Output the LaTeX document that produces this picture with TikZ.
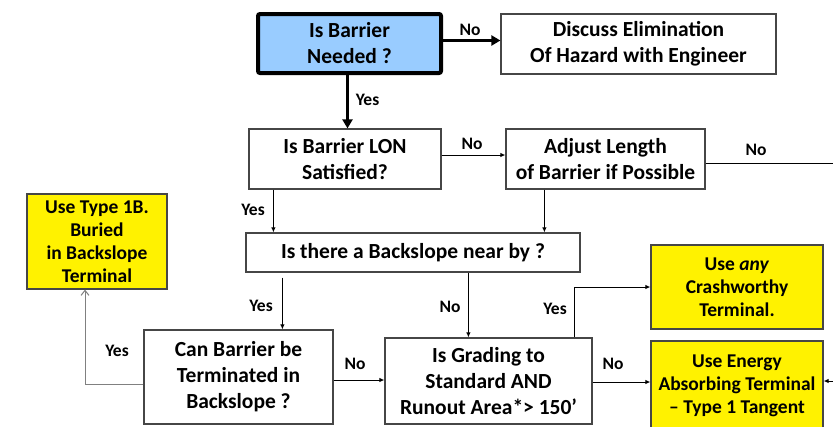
\documentclass[tikz,border=0pt]{standalone}
\usepackage{fontspec}
\setmainfont{Carlito}
\usetikzlibrary{arrows.meta}

\definecolor{azul}{RGB}{153,204,255}
\definecolor{borde}{RGB}{70,70,70}

\tikzset{
  caja/.style={draw=borde, line width=1.2pt, fill=white, align=center, inner sep=0pt,
    font=\bfseries\fontsize{21.5}{26}\selectfont},
  final/.style={caja, fill=yellow, font=\bfseries\fontsize{19.5}{23}\selectfont},
  etiq/.style={anchor=base, inner sep=0pt, font=\bfseries\fontsize{17.5}{20}\selectfont},
  flecha/.style={-{Latex[length=5pt,width=4.5pt]}, line width=1pt},
  gruesa/.style={-{Triangle[length=9pt,width=10pt]}, line width=3.5pt},
}

\begin{document}
\begin{tikzpicture}[x=1pt,y=-1pt]
            \useasboundingbox (0,0) rectangle (833,426);

            % Cajas
            \node[caja, draw=black, line width=4pt, rounded corners=2pt, fill=azul,
              minimum width=183pt, minimum height=59pt] (need) at (349.5,43.5) {Is Barrier\\Needed ?};
            \node[caja, minimum width=275pt, minimum height=60pt] (disc) at (638.5,44)
              {Discuss Elimination\\Of Hazard with Engineer};
            \node[caja, minimum width=192pt, minimum height=60pt] (lon) at (345,159)
              {Is Barrier LON\\Satisfied?};
            \node[caja, minimum width=199pt, minimum height=60pt] (adj) at (605.5,159)
              {Adjust Length\\of Barrier if Possible};
            \node[final, minimum width=140pt, minimum height=95pt] (tipo) at (97,241.5)
              {Use Type 1B.\\Buried\\in Backslope\\Terminal};
            \node[caja, minimum width=334pt, minimum height=39pt] (back) at (413,252.5)
              {Is there a Backslope near by ?};
            \node[caja, minimum width=189pt, minimum height=94pt] (can) at (238.5,377)
              {Can Barrier be\\Terminated in\\Backslope ?};
            \node[caja, minimum width=207pt, minimum height=86pt] (grade) at (488.5,381)
              {Is Grading to\\Standard AND\\Runout Area*> 150’};
            \node[final, minimum width=172pt, minimum height=84pt] (crash) at (737,287)
              {Use \textit{any}\\Crashworthy\\Terminal.};
            \node[final, minimum width=172pt, minimum height=89pt] (energy) at (737,385.5)
              {Use Energy\\Absorbing Terminal\\– Type 1 Tangent};
            \coordinate (fuera1) at (834,163);
            \coordinate (fuera2) at (834,381);

            % Conectores
            \draw[gruesa] ([yshift=3pt]need.east) -- ([yshift=3pt]need.east -| disc.west);
            \draw[gruesa] ([xshift=-2pt]need.south) -- ([xshift=-2pt]need.south |- lon.north);
            \draw[flecha] ([yshift=4pt]lon.east) -- ([yshift=4pt]lon.east -| adj.west);
            \draw[line width=1pt] ([yshift=-4pt]adj.east) -- (fuera1);
            \draw[flecha] ([xshift=25pt]lon.south west) -- ([xshift=25pt]lon.south west |- back.north);
            \draw[flecha] ([xshift=39pt]adj.south west) -- ([xshift=39pt]adj.south west |- back.north);
            \draw[flecha] ([xshift=37pt,yshift=-5pt]back.south west) -- ([xshift=37pt]back.south west |- can.north);
            \draw[flecha] ([xshift=223pt]back.south west) -- ([xshift=223pt]back.south west |- grade.north);
            \draw[-{Straight Barb[length=5pt,width=8pt]}, line width=1pt, draw=black!50]
              ([yshift=-7pt]can.west) -| ([xshift=-12pt]tipo.south);
            \draw[flecha] ([yshift=-3pt]can.east) -- ([yshift=-3pt]can.east -| grade.west);
            \draw[flecha] ([xshift=-18pt]grade.north east) |- (crash.west);
            \draw[flecha] ([yshift=-1pt]grade.east) -- ([yshift=-1pt]grade.east -| energy.west);
            \draw[flecha] (fuera2) -- (fuera2 -| energy.east);

            % Etiquetas
            \node[etiq] (l1) at (470,35) {No};
            \node[etiq] (l2) at (367.5,105) {Yes};
            \node[etiq] (l3) at (472,149) {No};
            \node[etiq] (l4) at (756,155) {No};
            \node[etiq] (l5) at (253,215) {Yes};
            \node[etiq] (l6) at (261,311) {Yes};
            \node[etiq] (l7) at (117,356) {Yes};
            \node[etiq] (l8) at (355,369) {No};
            \node[etiq] (l9) at (450,312) {No};
            \node[etiq] (l10) at (555,314) {Yes};
            \node[etiq] (l11) at (613,369) {No};
\end{tikzpicture}
\end{document}
